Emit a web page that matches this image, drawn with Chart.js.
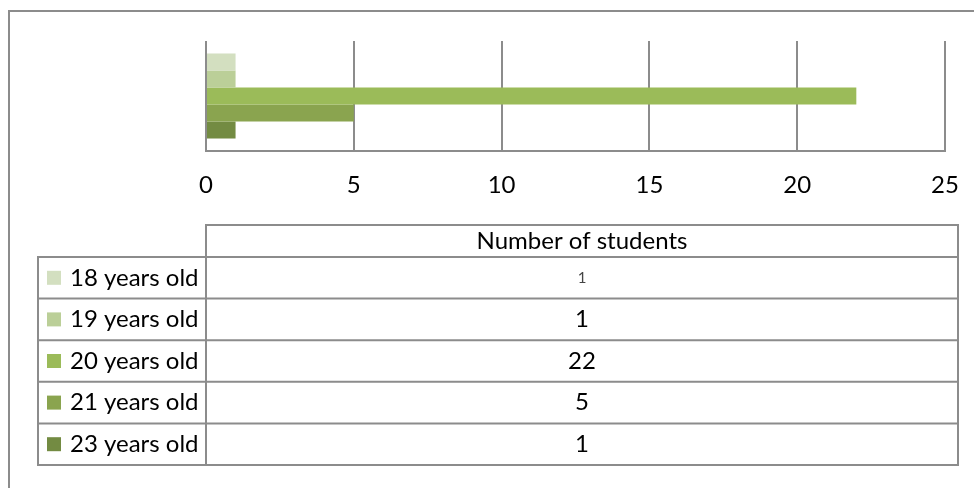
<!DOCTYPE html>
<html>
<head>
<meta charset="utf-8">
<script src="https://cdn.jsdelivr.net/npm/chart.js@4.4.1/dist/chart.umd.min.js"></script>
<style>
  html, body { margin: 0; padding: 0; background: #fff; }
  #wrap { width: 974px; height: 488px; position: relative; }
</style>
</head>
<body>
<div id="wrap"><canvas id="ageChart"></canvas></div>
<script>
const categories = ['Number of students'];
const ageGroups = ['18 years old', '19 years old', '20 years old', '21 years old', '23 years old'];
const studentCounts = [1, 1, 22, 5, 1];
const barColors = ['#d3dfc0', '#bbcf98', '#9bbb59', '#8aa44f', '#738b42'];

const lineGrey = '#8c8c8c';
const fontFamily = 'Lato, "Open Sans", sans-serif';
const fontSize = 24;

// draws the outer frame and the data table under the plot
const dataTable = {
  id: 'dataTable',
  afterDraw(chart) {
    const ctx = chart.ctx;
    const left = 38, split = 206, right = 958;
    const headTop = 225, rowTop = 257, rowH = 41.6;
    const bottom = rowTop + rowH * ageGroups.length;

    ctx.save();
    ctx.strokeStyle = lineGrey;
    ctx.lineWidth = 2;

    // outer frame (only top and left inside the window)
    ctx.beginPath();
    ctx.moveTo(9, 490);
    ctx.lineTo(9, 11);
    ctx.lineTo(976, 11);
    ctx.stroke();

    // header cell
    ctx.beginPath();
    ctx.rect(split, headTop, right - split, rowTop - headTop);
    ctx.stroke();
    // body
    ctx.beginPath();
    ctx.rect(left, rowTop, right - left, bottom - rowTop);
    ctx.moveTo(split, rowTop);
    ctx.lineTo(split, bottom);
    for (let i = 1; i < ageGroups.length; i++) {
      ctx.moveTo(left, rowTop + rowH * i);
      ctx.lineTo(right, rowTop + rowH * i);
    }
    ctx.stroke();

    ctx.textBaseline = 'middle';
    ctx.fillStyle = '#000';
    ctx.font = fontSize + 'px ' + fontFamily;
    ctx.textAlign = 'center';
    ctx.fillText(categories[0], (split + right) / 2, (headTop + rowTop) / 2);

    ageGroups.forEach((g, i) => {
      const cy = rowTop + rowH * i + rowH / 2;
      ctx.fillStyle = barColors[i];
      ctx.fillRect(47, cy - 7, 14, 14);
      ctx.fillStyle = '#000';
      ctx.textAlign = 'left';
      ctx.font = fontSize + 'px ' + fontFamily;
      ctx.fillText(g, 70, cy);
      ctx.textAlign = 'center';
      if (i === 0) {
        ctx.fillStyle = '#444';
        ctx.font = '15px ' + fontFamily;
      }
      ctx.fillText(String(studentCounts[i]), (split + right) / 2, cy);
    });
    ctx.restore();
  }
};

const ageChart = new Chart(document.getElementById('ageChart'), {
  type: 'bar',
  data: {
    labels: categories,
    datasets: ageGroups.map((g, i) => ({
      label: g,
      data: [studentCounts[i]],
      backgroundColor: barColors[i],
      borderWidth: 0,
      barPercentage: 1,
      categoryPercentage: 0.773
    }))
  },
  options: {
    indexAxis: 'y',
    responsive: true,
    maintainAspectRatio: false,
    animation: false,
    layout: {
      padding: { left: 206, right: 29, top: 41, bottom: 0 }
    },
    plugins: {
      legend: { display: false },
      tooltip: { enabled: false }
    },
    scales: {
      x: {
        min: 0,
        max: 25,
        ticks: {
          stepSize: 5,
          color: '#000',
          padding: 20,
          font: { family: fontFamily, size: fontSize }
        },
        grid: {
          color: lineGrey,
          lineWidth: 2,
          drawTicks: false
        },
        border: { color: lineGrey, width: 2 },
        afterFit: (scale) => {
          scale.height = 488 - 151;
          scale.paddingLeft = 0;
          scale.paddingRight = 0;
        }
      },
      y: {
        display: false
      }
    }
  },
  plugins: [dataTable]
});
</script>
</body>
</html>
